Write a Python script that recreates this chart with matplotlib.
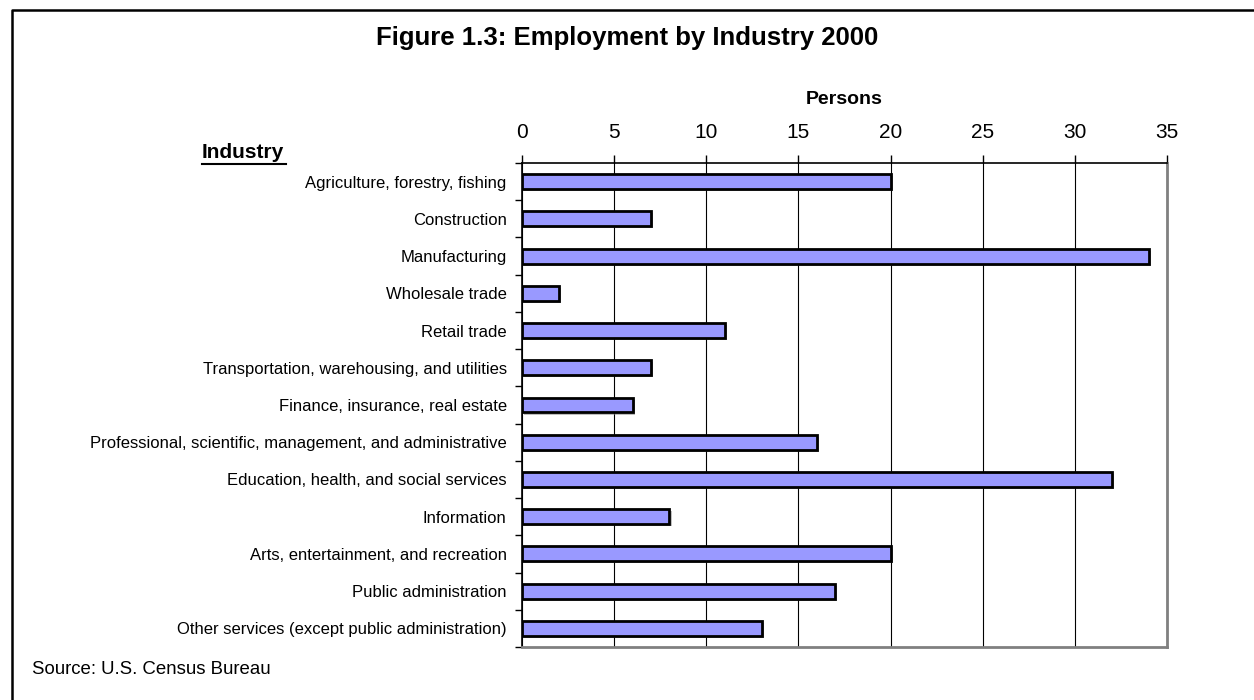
import matplotlib
matplotlib.use("Agg")
import matplotlib.pyplot as plt
import matplotlib.patheffects as pe
from matplotlib.lines import Line2D

plt.rcParams["font.family"] = ["Liberation Sans", "DejaVu Sans"]

# ── 데이터 ──────────────────────────────────────────
industries = [
    "Agriculture, forestry, fishing",
    "Construction",
    "Manufacturing",
    "Wholesale trade",
    "Retail trade",
    "Transportation, warehousing, and utilities",
    "Finance, insurance, real estate",
    "Professional, scientific, management, and administrative",
    "Education, health, and social services",
    "Information",
    "Arts, entertainment, and recreation",
    "Public administration",
    "Other services (except public administration)",
]
persons = [20, 7, 34, 2, 11, 7, 6, 16, 32, 8, 20, 17, 13]
x_ticks = [0, 5, 10, 15, 20, 25, 30, 35]

BAR_COLOR = "#9999FF"

fig = plt.figure(figsize=(12.54, 7.0), dpi=100, facecolor="white")
ax = fig.add_axes([522 / 1254, 1 - 647 / 700, (1167 - 522) / 1254, (647 - 163) / 700])

n = len(industries)
ypos = list(range(n))
ax.barh(ypos, persons, height=0.4, color=BAR_COLOR, edgecolor="black",
        linewidth=2.0, zorder=3,
        path_effects=[pe.SimplePatchShadow(offset=(1.5, -1.5), shadow_rgbFace="gray", alpha=0.5),
                      pe.Normal()])

ax.set_xlim(0, 35)
ax.set_ylim(n - 0.5, -0.5)

# x축은 위쪽
ax.xaxis.tick_top()
ax.xaxis.set_label_position("top")
ax.set_xticks(x_ticks)
ax.set_xticklabels([str(t) for t in x_ticks], fontsize=15)
ax.tick_params(axis="x", direction="out", length=6, width=1, pad=9, color="black")
ax.set_xlabel("Persons", fontsize=14, fontweight="bold", labelpad=14)

# y축: 눈금은 범주 경계, 라벨은 막대 중앙
ax.set_yticks([i - 0.5 for i in range(n + 1)])
ax.set_yticklabels([])
ax.set_yticks(ypos, minor=True)
ax.set_yticklabels(industries, minor=True, fontsize=12)
ax.tick_params(axis="y", which="major", direction="out", length=5, width=1)
ax.tick_params(axis="y", which="minor", length=0, pad=11)

ax.grid(axis="x", color="black", linewidth=0.8, zorder=0)
ax.grid(axis="y", visible=False)

ax.spines["top"].set_color("black")
ax.spines["top"].set_linewidth(1.2)
ax.spines["left"].set_color("black")
ax.spines["left"].set_linewidth(1.2)
ax.spines["right"].set_color("#808080")
ax.spines["right"].set_linewidth(2)
ax.spines["bottom"].set_color("#808080")
ax.spines["bottom"].set_linewidth(2)

# 텍스트
fig.text(627 / 1254, 1 - 38 / 700, "Figure 1.3: Employment by Industry 2000",
         ha="center", va="center", fontsize=18.5, fontweight="bold")
fig.text(243 / 1254, 1 - 153 / 700, "Industry", ha="center", va="center",
         fontsize=15, fontweight="bold")
fig.text(32 / 1254, 1 - 669 / 700, "Source: U.S. Census Bureau",
         ha="left", va="center", fontsize=13.4)

# Industry 밑줄
fig.add_artist(Line2D([202 / 1254, 286 / 1254], [1 - 164 / 700, 1 - 164 / 700],
                      color="black", linewidth=1.5, transform=fig.transFigure))

# 바깥 테두리 (왼쪽, 위쪽)
fig.add_artist(Line2D([12 / 1254, 12 / 1254, 1.0], [0.0, 1 - 10 / 700, 1 - 10 / 700],
                      color="black", linewidth=1.8, transform=fig.transFigure))

fig.savefig("out.png", dpi=100, facecolor="white")
